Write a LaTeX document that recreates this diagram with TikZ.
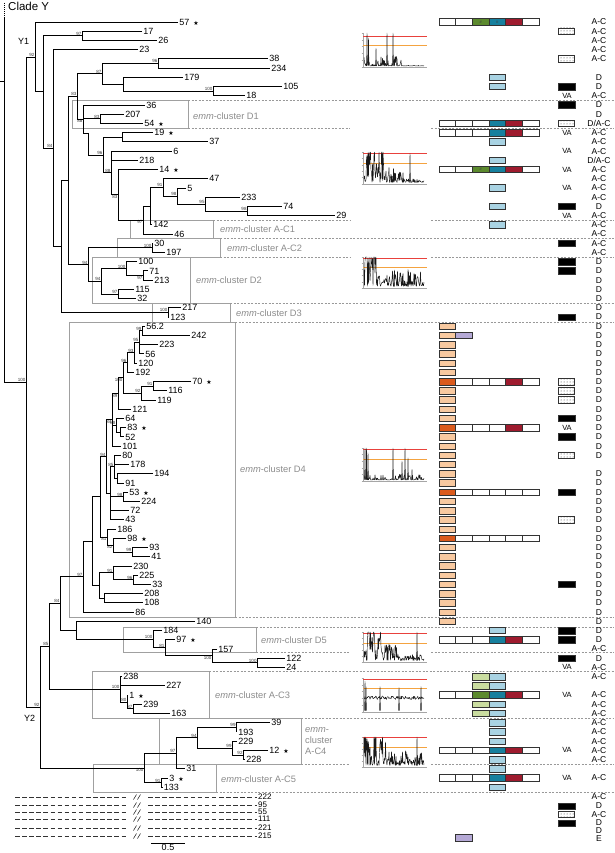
\documentclass[tikz,border=0pt]{standalone}
\usepackage{fontspec}
\setmainfont{Liberation Sans}
\newfontfamily\djv{DejaVu Sans}
\usetikzlibrary{calc,patterns}
\definecolor{teal2}{HTML}{17809E}
\definecolor{dred}{HTML}{9E1B2E}
\definecolor{dgreen}{HTML}{5C8A2E}
\definecolor{lblue}{HTML}{A9D3E3}
\definecolor{lgreen}{HTML}{CADDA0}
\definecolor{peach}{HTML}{F8C9A0}
\definecolor{dorange}{HTML}{DB5A1C}
\definecolor{lav}{HTML}{B5A9D6}
\definecolor{clgray}{HTML}{A0A0A0}
\definecolor{cltext}{HTML}{8C8C8C}
\definecolor{redl}{HTML}{E8413C}
\definecolor{orgl}{HTML}{F4A340}

\newcommand\yrow[1]{22+9.22*#1}
\newcommand\strx{\hspace{4pt}{\djv\fontsize{6}{6}\selectfont ★}}
\newcommand\leafx[3]{\coordinate (l#1) at (#2,{\yrow{#1}}); \node[lfl] (t#1) at (l#1) {#3};}
\newcommand\inode[4]{\path let \p1=(#3), \p2=(#4) in coordinate (#1) at (#2pt,{(\y1+\y2)/2}); \draw[br] (#3) -| (#1 |- #4) -- (#4);}
\newcommand\inodem[5]{\inode{#1}{#2}{#3}{#4}\foreach \cc in {#5}{\draw[br] (#1 |- \cc) -- (\cc);}}
\newcommand\bsa[2]{\node[bsl,anchor=south east] (bs#1) at (#1) {#2};}
\newcommand\bsb[2]{\node[bsl,anchor=north east] (bs#1) at (#1) {#2};}
\newcommand\rowlab[2]{\node[rlab] (rl#1) at (599,{\yrow{#1}}) {#2};}
\newcommand\rowva[1]{\node[valab] (va#1) at (567,{\yrow{#1}}) {VA};}
\newcommand\rowblk[1]{\node[blkb] (bk#1) at (566.5,{\yrow{#1}}) {};}
\newcommand\rowdot[1]{\node[dtbb] (dt#1) at (566.5,{\yrow{#1}}) {};}
\newcommand\rowbox[3]{\draw[dom,fill=#3] ({439+16.67*#2},{\yrow{#1}-3.25}) rectangle ++(16.67,6.5);}
\newcommand\rowbar[2]{\foreach \cc [count=\kk from 0] in {#2} {\draw[dom,fill=\cc] ({439+16.67*\kk},{\yrow{#1}-3.25}) rectangle ++(16.67,6.5);}}
\newcommand\rowhash[2]{\node[hashs] (h#1x#2) at ({447.3+16.67*#2},{\yrow{#1}}) {\#};}
\newcommand\sparkplot[7]{%
 \pgfmathsetseed{#5}
 \draw[pax] (363,#1) -- (363,#2) -- (427,#2);
 \foreach \tk in {0,...,5} {\draw[pax] (361.5,{#2-\tk*(#2-#1)/5}) -- (363,{#2-\tk*(#2-#1)/5});}
 \draw[redline] (363,#3) -- (427,#3);
 \draw[orgline] (363,#4) -- (427,#4);
 \draw[pdat] plot[domain=0:60,samples=121,variable=\x] ({364+\x},{#2-(#2-#1)*min(1,#6)});
 \foreach \sx/\sh in {#7} {\draw[pdat] ({363.6+\sx},{#2-1.5}) -- ({364+\sx},{#2-(#2-#1)*\sh}) -- ({364.4+\sx},{#2-1.5});}
}

\begin{document}
\begin{tikzpicture}[x=1pt,y=-1pt,
 br/.style={line width=0.9pt, line join=miter},
 lfl/.style={anchor=west, inner sep=1.2pt, font=\fontsize{9}{9}\selectfont},
 bsl/.style={inner sep=0.3pt, font=\fontsize{4.5}{5}\selectfont, text=black!80},
 clbox/.style={draw=clgray, line width=0.6pt},
 cll/.style={anchor=west, inner sep=0pt, text=cltext, font=\fontsize{9.3}{11}\selectfont},
 gd/.style={draw=gray!80, line width=0.5pt, dash pattern=on 2pt off 1.5pt},
 bdash/.style={draw=black!80, line width=0.8pt, dash pattern=on 4.5pt off 2.6pt},
 bll/.style={anchor=west, inner sep=1pt, font=\fontsize{8}{8}\selectfont},
 rlab/.style={inner sep=0pt, font=\fontsize{8.5}{9}\selectfont},
 valab/.style={inner sep=0pt, font=\fontsize{7.5}{8}\selectfont},
 blkb/.style={draw=black!80, fill=black, minimum width=16.5pt, minimum height=6.5pt, inner sep=0pt, line width=0.5pt},
 dtbb/.style={draw=black!80, pattern=dots, pattern color=black!80, minimum width=16.5pt, minimum height=6.5pt, inner sep=0pt, line width=0.6pt},
 dom/.style={draw=black!80, line width=0.65pt},
 hashs/.style={inner sep=0pt, font=\fontsize{4}{4}\selectfont, text=black!75},
 pax/.style={draw=gray!70, line width=0.35pt},
 redline/.style={draw=redl, line width=0.6pt},
 orgline/.style={draw=orgl, line width=0.6pt},
 pdat/.style={draw=black!90, line width=0.45pt, line join=round},
]
\fill[white] (0,0) rectangle (614,853);
\useasboundingbox (0,0) rectangle (614,853);

% ---------- cluster boxes and dashed separators ----------
\draw[clbox] (72,100) rectangle (188,128);
\draw[clbox] (130,220) rectangle (213,238);
\draw[clbox] (117,238) rectangle (220,257);
\draw[clbox] (92,257) rectangle (190,303);
\draw[clbox] (152,303) rectangle (230,322);
\draw[clbox] (69,322) rectangle (235,617);
\draw[clbox] (123,627) rectangle (256,652);
\draw[clbox] (92,671) rectangle (209,718);
\draw[clbox] (159,718) rectangle (301,764);
\draw[clbox] (93,764) rectangle (216,792);
\node[cll] (cD1) at (193,116) {\textit{emm}-cluster D1};
\node[cll] (cAC1) at (220,229) {\textit{emm}-cluster A-C1};
\node[cll] (cAC2) at (227,248) {\textit{emm}-cluster A-C2};
\node[cll] (cD2) at (196,280) {\textit{emm}-cluster D2};
\node[cll] (cD3) at (236,313) {\textit{emm}-cluster D3};
\node[cll] (cD4) at (240,469) {\textit{emm}-cluster D4};
\node[cll] (cD5) at (261,640) {\textit{emm}-cluster D5};
\node[cll] (cAC3) at (215,695) {\textit{emm}-cluster A-C3};
\node[cll, align=left] (cAC4) at (305,741) {\textit{emm}-\\cluster\\A-C4};
\node[cll] (cAC5) at (221,779) {\textit{emm}-cluster A-C5};

\draw[gd] (188,100) -- (614,100);
\draw[gd] (188,128) -- (350,128); \draw[gd] (431,128) -- (614,128);
\draw[gd] (213,220) -- (350,220); \draw[gd] (431,220) -- (614,220);
\draw[gd] (220,238) -- (614,238);
\draw[gd] (220,257) -- (350,257); \draw[gd] (431,257) -- (614,257);
\draw[gd] (230,303) -- (614,303);
\draw[gd] (235,322) -- (614,322);
\draw[gd] (235,617) -- (614,617);
\draw[gd] (256,627) -- (614,627);
\draw[gd] (256,652) -- (350,652); \draw[gd] (431,652) -- (614,652);
\draw[gd] (209,671) -- (614,671);
\draw[gd] (301,718) -- (614,718);
\draw[gd] (301,764) -- (350,764); \draw[gd] (431,764) -- (614,764);
\draw[gd] (216,792) -- (614,792);

% ---------- leaves ----------
\leafx{0}{178}{57\strx}
\leafx{1}{142}{17}
\leafx{2}{157}{26}
\leafx{3}{138}{23}
\leafx{4}{268}{38}
\leafx{5}{270}{234}
\leafx{6}{183}{179}
\leafx{7}{282}{105}
\leafx{8}{245}{18}
\leafx{9}{145}{36}
\leafx{10}{124}{207}
\leafx{11}{143}{54\strx}
\leafx{12}{153}{19\strx}
\leafx{13}{208}{37}
\leafx{14}{172}{6}
\leafx{15}{138}{218}
\leafx{16}{158}{14\strx}
\leafx{17}{208}{47}
\leafx{18}{186}{5}
\leafx{19}{240}{233}
\leafx{20}{282}{74}
\leafx{21}{335}{29}
\leafx{22}{152}{142}
\leafx{23}{173}{46}
\leafx{24}{153}{30}
\leafx{25}{165}{197}
\leafx{26}{137}{100}
\leafx{27}{148}{71}
\leafx{28}{153}{213}
\leafx{29}{134}{115}
\leafx{30}{136}{32}
\leafx{31}{181}{217}
\leafx{32}{169}{123}
\leafx{33}{145}{56.2}
\leafx{34}{190}{242}
\leafx{35}{158}{223}
\leafx{36}{144}{56}
\leafx{37}{137}{120}
\leafx{38}{134}{192}
\leafx{39}{191}{70\strx}
\leafx{40}{167}{116}
\leafx{41}{156}{119}
\leafx{42}{131}{121}
\leafx{43}{124}{64}
\leafx{44}{126}{83\strx}
\leafx{45}{124}{52}
\leafx{46}{121}{101}
\leafx{47}{121}{80}
\leafx{48}{129}{178}
\leafx{49}{153}{194}
\leafx{50}{124}{91}
\leafx{51}{128}{53\strx}
\leafx{52}{140}{224}
\leafx{53}{129}{72}
\leafx{54}{124}{43}
\leafx{55}{116}{186}
\leafx{56}{126}{98\strx}
\leafx{57}{148}{93}
\leafx{58}{150}{41}
\leafx{59}{132}{230}
\leafx{60}{138}{225}
\leafx{61}{151}{33}
\leafx{62}{143}{208}
\leafx{63}{143}{108}
\leafx{64}{134}{86}
\leafx{65}{195}{140}
\leafx{66}{162}{184}
\leafx{67}{175}{97\strx}
\leafx{68}{217}{157}
\leafx{69}{285}{122}
\leafx{70}{285}{24}
\leafx{71}{122}{238}
\leafx{72}{165}{227}
\leafx{73}{128}{1\strx}
\leafx{74}{142}{239}
\leafx{75}{170}{163}
\leafx{76}{270}{39}
\leafx{77}{237}{193}
\leafx{78}{237}{229}
\leafx{79}{268}{12\strx}
\leafx{80}{245}{228}
\leafx{81}{185}{31}
\leafx{82}{168}{3\strx}
\leafx{83}{162.5}{133}

% ---------- Y1 subtree ----------
\inode{B}{82}{l1}{l2} \bsa{B}{97}
\inode{L}{213}{l7}{l8} \bsa{L}{100}
\inode{K}{123}{l6}{L}
\inode{J}{158}{l4}{l5} \bsa{J}{96}
\inode{H}{102}{J}{K} \bsa{H}{87}
\inode{N}{100}{l10}{l11} \bsa{N}{83}
\inode{S}{122}{l12}{l13}
\inode{AA}{247}{l20}{l21} \bsa{AA}{98}
\inode{Z}{205}{l19}{AA} \bsa{Z}{95}
\inode{Yy}{177}{l18}{Z} \bsa{Yy}{98}
\inode{X}{163}{l17}{Yy} \bsa{X}{91}
\inode{W}{150}{X}{l22}
\inode{V}{143}{W}{l23} \bsb{V}{97}
\inode{U}{118}{l16}{V} \bsb{U}{83}
\inodem{T}{111}{l14}{U}{l15} \bsa{T}{88}
\inode{R}{103}{S}{T} \bsa{R}{96}
\coordinate (Q) at (88,133);
\draw[br] (Q) |- (R);
\inodem{I}{83}{l9}{Q}{N} \bsb{I}{88}
\inode{F}{77}{H}{I} \bsa{F}{83}
\inode{AB}{152}{l24}{l25} \bsa{AB}{100}
\inode{AF}{143}{l27}{l28} \bsb{AF}{97}
\inode{AD}{126}{l26}{AF} \bsa{AD}{100}
\inode{AE}{118}{l29}{l30} \bsa{AE}{97}
\inode{AC}{101}{AD}{AE} \bsa{AC}{94}
\inode{G}{88}{AB}{AC} \bsa{G}{94}
\inode{E}{68}{F}{G}
\inode{AG}{168}{l31}{l32} \bsa{AG}{100}
\inode{D}{61}{E}{AG}
\inode{C}{53}{l3}{D} \bsa{C}{84}
\inode{A}{43}{B}{C}
\inode{Y1}{35}{l0}{A} \bsa{Y1}{92}

% ---------- Y2 subtree ----------
\inode{n99}{142}{l33}{l34} \bsa{n99}{99}
\inodem{n95}{139}{n99}{l36}{l35} \bsa{n95}{95}
\inode{n93}{134}{n95}{l37} \bsa{n93}{93}
\inode{n96}{127}{n93}{l38} \bsa{n96}{96}
\inode{n91}{153}{l39}{l40} \bsa{n91}{91}
\inode{n92}{141}{n91}{l41} \bsa{n92}{92}
\inode{n100}{123}{n96}{n92} \bsb{n100}{100}
\inode{n89}{118}{n100}{l42} \bsb{n89}{89}
\inode{n83}{120}{l44}{l45}
\inode{n88}{116}{l43}{n83} \bsa{n88}{88}
\inodem{n84}{112}{n89}{l46}{n88} \bsb{n84}{84}
\inode{n194}{117}{l49}{l50}
\inodem{n85}{114}{l47}{n194}{l48} \bsa{n85}{85}
\inode{n98}{123}{l51}{l52} \bsa{n98}{98}
\inodem{nc}{110}{n85}{l54}{n98,l53}
\inode{nb}{106}{n84}{nc} \bsa{nb}{94}
\inode{n99b}{132}{l57}{l58} \bsa{n99b}{99}
\inode{n82}{113}{l56}{n99b} \bsb{n82}{82}
\inode{n81}{107}{l55}{n82} \bsb{n81}{81}
\inode{na}{100}{nb}{n81}
\inode{n96b}{133}{l60}{l61} \bsa{n96b}{96}
\inode{n91b}{113}{l59}{n96b} \bsa{n91b}{91}
\inode{n208}{104}{l62}{l63}
\inode{BM}{99}{n91b}{n208}
\inode{BK}{92}{na}{BM}
\inode{BE}{83}{BK}{l64} \bsa{BE}{97}
\inode{BJ}{257}{l69}{l70} \bsa{BJ}{100}
\inode{BI}{212}{l68}{BJ} \bsb{BI}{100}
\inode{BH}{165}{l67}{BI} \bsa{BH}{81}
\inode{BG}{153}{l66}{BH} \bsa{BG}{100}
\inode{BF}{76}{l65}{BG}
\inode{BC}{60}{BE}{BF} \bsa{BC}{84}
\inode{n87}{133}{l74}{l75} \bsa{n87}{87}
\inode{n80}{127}{l73}{n87} \bsa{n80}{80}
\inodem{BD}{120}{l71}{n80}{l72} \bsa{BD}{100}
\inode{BA}{49}{BC}{BD} \bsa{BA}{85}
\inode{n92c}{243}{l79}{l80} \bsa{n92c}{92}
\inode{n99d}{232}{l78}{n92c} \bsa{n99d}{99}
\inode{n99c}{236}{l76}{l77} \bsa{n99c}{99}
\inode{n94}{197}{n99c}{n99d} \bsa{n94}{94}
\inode{n97}{176}{n94}{l81} \bsa{n97}{97}
\inode{n91c}{161}{l82}{l83} \bsa{n91c}{91}
\inode{BB}{144}{n97}{n91c} \bsb{BB}{100}
\inode{Y2}{40}{BA}{BB} \bsa{Y2}{92}
\inode{CY}{26}{Y1}{Y2} \bsa{CY}{100}

% root
\coordinate (rdot) at (4,3);
\coordinate (rtop) at (4,17);
\coordinate (rtick) at (0,81);
\draw[br] (rtop) |- (CY);
\draw[line width=0.5pt, dash pattern=on 0.6pt off 1.4pt] (rdot) -- (rtop);
\draw[br] (rtick) -- (rtick -| rtop);
\node[anchor=base west, inner sep=0pt, font=\fontsize{11.5}{12}\selectfont] (clY) at (8,10.3) {Clade Y};
\node[anchor=base west, inner sep=0pt, font=\fontsize{9}{9}\selectfont] (tY1) at (18,45) {Y1};
\node[anchor=base west, inner sep=0pt, font=\fontsize{9}{9}\selectfont] (tY2) at (24,721) {Y2};

% ---------- unplaced sequences ----------
\foreach \yb/\lb [count=\k] in {797/222,805/95,812/55,819/111,828/221,836/215} {
  \coordinate (ba\k) at (15,\yb); \coordinate (bb\k) at (127,\yb);
  \coordinate (bc\k) at (148,\yb); \coordinate (bd\k) at (257,\yb);
  \draw[bdash] (ba\k) -- (bb\k);
  \draw[bdash] (bc\k) -- (bd\k);
  \draw[line width=0.45pt] (133.5,\yb+2.5) -- (136.5,\yb-2.5);
  \draw[line width=0.45pt] (137.5,\yb+2.5) -- (140.5,\yb-2.5);
  \node[bll] (bl\k) at (bd\k) {\lb};
}
% scale bar
\coordinate (sb1) at (151,843); \coordinate (sb2) at (185,843);
\draw[br] (sb1) -- (sb2);
\node[anchor=north, inner sep=0.8pt, font=\fontsize{9}{9}\selectfont] (sbl) at ($(sb1)!.5!(sb2)$) {0.5};

% ---------- inset profiles ----------
\sparkplot{33}{67}{36}{45}{11}{0.03+(0.02+0.28*(\x<38))*rnd^3}{3/1.0,4.5/0.85,12/0.55,17/0.3,23/1.0,29/1.0,33/0.25}
\sparkplot{152}{184}{153}{163}{22}{0.05+(0.12+0.38*(\x<40)+0.9*(\x<20))*rnd^2}{46/0.95}
\sparkplot{257}{288}{258}{267}{33}{0.06+(0.55+0.95*(\x<14))*rnd^2}{30/0.45,44/0.6}
\sparkplot{448}{481}{449}{459}{44}{0.03+0.18*rnd^3}{1/1.0,2.5/1.0,4/0.85,29/1.0,38/0.6,41/1.0,44/0.7,48/0.35}
\sparkplot{632}{662}{633}{643}{55}{0.05+(0.2+0.35*(\x<35)+0.95*(\x<17))*rnd^2}{53/1.0}
\sparkplot{678}{712}{679}{688}{66}{0.37+0.1*rnd}{1/0.9,2/0.75,16/0.75,35/0.72,57/0.75}
\sparkplot{737}{767}{737}{747}{77}{0.05+(0.5+1.0*(\x<22))*rnd^2}{53/1.0}

% ---------- domain boxes ----------
\foreach \i in {33,...,65} {\rowbox{\i}{0}{peach}}
\rowbox{34}{1}{lav}
\foreach \i in {6,7,13,15,18,20,22,66,71,72,74,75,76,77,78,80,81,83} {\rowbox{\i}{3}{lblue}}
\foreach \i in {71,72,74,75} {\rowbox{\i}{2}{lgreen}}
\rowbar{0}{white,white,dgreen,teal2,dred,white} \rowhash{0}{2} \rowhash{0}{3}
\rowbar{11}{white,white,white,teal2,dred,white}
\rowbar{12}{white,white,white,teal2,dred,white}
\rowbar{16}{white,white,dgreen,teal2,dred,white} \rowhash{16}{2}
\rowbar{39}{dorange,white,white,white,dred,white}
\rowbar{44}{dorange,white,white,white,dred,white}
\rowbar{51}{dorange,white,white,white,white,white}
\rowbar{56}{dorange,white,white,white,white,white}
\rowbar{67}{white,white,white,teal2,dred,white}
\rowbar{73}{white,white,dgreen,teal2,dred,white}
\rowbar{79}{white,white,white,teal2,dred,white}
\rowbar{82}{white,white,white,teal2,dred,white}
\draw[dom,fill=lav] (455.67,834.75) rectangle ++(16.67,6.5);

% ---------- pattern boxes, VA, types ----------
\foreach \i in {7,9,20,24,26,27,32,43,45,51,61,66,67,69} {\rowblk{\i}}
\foreach \i in {1,4,11,39,40,41,47,54} {\rowdot{\i}}
\node[blkb] (bkb1) at (566.5,806) {};
\node[dtbb] (dtb1) at (566.5,814.5) {};
\node[blkb] (bkb2) at (566.5,823) {};
\foreach \i in {8,12,14,16,18,21,44,70,73,79,82} {\rowva{\i}}
\foreach \i in {0,1,2,3,4,8,12,13,14,16,17,18,19,21,22,23,24,25,68,70,71,73,74,75,76,77,78,79,80,82} {\rowlab{\i}{A-C}}
\foreach \i in {6,7,9,10,20,69} {\rowlab{\i}{D}}
\foreach \i in {26,...,47} {\rowlab{\i}{D}}
\foreach \i in {49,...,67} {\rowlab{\i}{D}}
\foreach \i in {11,15} {\rowlab{\i}{D/A-C}}
\foreach \yb/\lb [count=\k] in {797/A-C,806/D,814.5/A-C,823/D,831/D,839/E} {\node[rlab] (rb\k) at (599,\yb) {\lb};}
\end{tikzpicture}
\end{document}
